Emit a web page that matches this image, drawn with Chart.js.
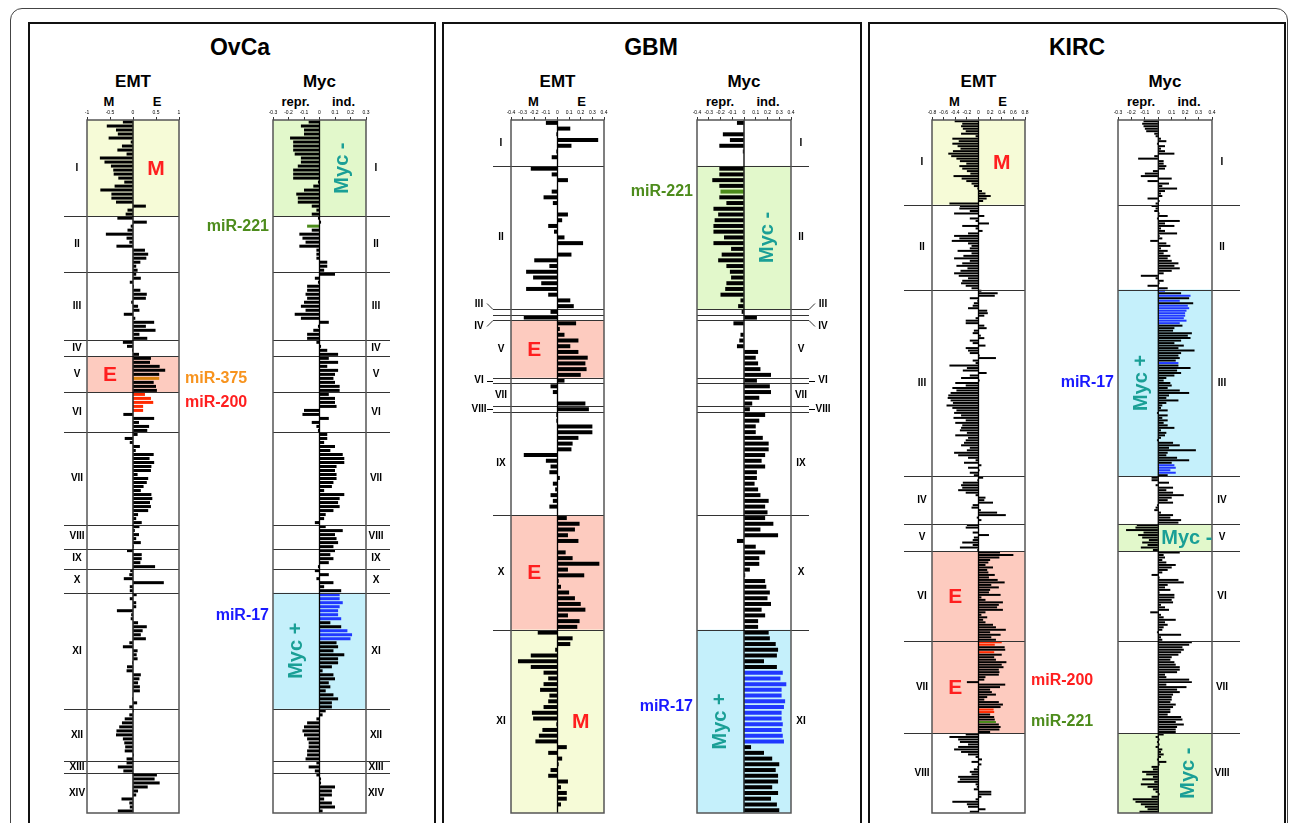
<!DOCTYPE html>
<html>
<head>
<meta charset="utf-8">
<title>EMT / Myc miRNA profiles</title>
<script src="https://cdn.jsdelivr.net/npm/chart.js@4.4.1/dist/chart.umd.min.js"></script>
<style>
  html, body { margin: 0; padding: 0; background: #fff; }
  body { width: 1290px; height: 823px; overflow: hidden; position: relative; }
  #page { position: absolute; left: 0; top: 0; width: 1290px; height: 823px; font-family: 'Liberation Sans', Arial, Helvetica, sans-serif; }
  .frame { position: absolute; left: 10px; top: 8px; width: 1278px; height: 900px; border: 1.5px solid #444; border-radius: 12px; box-sizing: border-box; }
  .panel { position: absolute; top: 22px; height: 900px; border: 2px solid #111; box-sizing: border-box; }
  .txt { position: absolute; transform: translateX(-50%); white-space: nowrap; font-weight: bold; color: #000; line-height: 1; }
  .title { font-size: 23px; top: 36px; }
  .head { font-size: 17px; top: 73px; }
  .sub { font-size: 13px; top: 95px; }
  canvas { position: absolute; }
</style>
</head>
<body>
<div id="page">
  <div class="frame"></div>
  <div class="panel" style="left:28px;width:408px"></div>
  <div class="panel" style="left:442px;width:420px"></div>
  <div class="panel" style="left:868px;width:418px"></div>
</div>
<script>
// ---- segment names ----
const ovcaSegNames = ['I','II','III','IV','V','VI','VII','VIII','IX','X','XI','XII','XIII','XIV'];
const gbmSegNames = ['I','II','III','IV','V','VI','VII','VIII','IX','X','XI'];
const kircSegNames = ['I','II','III','IV','V','VI','VII','VIII'];

// ---- OvCa (one array per segment, rows top to bottom) ----
const ovcaEMT = [
  [-0.22,-0.57,-0.37,-0.33,-0.53,-0.05,-0.24,-0.34,-0.14,-0.72,-0.62,-0.48,-0.43,-0.42,-0.32,-0.19,-0.40,-0.71,-0.47,-0.47,-0.37,0.28,-0.12,-0.16],
  [-0.34,0.30,-0.05,-0.12,-0.59,-0.14,-0.08,-0.36,0.26,0.33,0.29,0.16,0.07,0.10],
  [0.07,0.17,-0.07,0.02,0.16,0.30,0.28,-0.04,0.11,0.14,-0.20,0.05,0.46,0.28,0.49,0.14,0.31],
  [-0.22,-0.13,-0.02,0.13],
  [0.39,0.37,0.58,0.70,0.57,0.57,0.45,0.50,0.52],
  [0.26,0.39,0.44,0.22,0.22,-0.21,0.46,0.13,0.35,0.31],
  [0.10,-0.18,-0.07,0.15,0.06,0.45,0.36,0.46,0.40,0.39,0.10,0.33,0.30,0.23,0.17,0.40,0.42,0.37,0.39,0.33,0.11,0.07,0.19],
  [0.14,0.04,0.13,0.07,0.17,0.02],
  [-0.13,0.19,0.19,0.16,0.48],
  [-0.06,-0.08,-0.20,0.67,-0.07,-0.07],
  [0.08,-0.07,0.07,0.07,-0.35,-0.04,-0.05,0.11,0.30,0.21,0.17,0.28,-0.08,-0.22,0.10,0.08,0.10,-0.02,-0.13,-0.14,0.17,0.14,0.11,0.15,0.15,-0.01,-0.02,0.09,-0.08],
  [0.02,-0.08,-0.18,-0.24,-0.30,-0.36,-0.37,-0.22,-0.19,-0.17,-0.18,0.02,-0.14],
  [-0.14,-0.33,-0.21],
  [0.52,0.47,0.58,0.32,0.11,0.07,-0.25,-0.08,-0.07,-0.33]
];
const ovcaMyc = [
  [-0.07,-0.12,-0.10,-0.10,-0.19,-0.17,-0.17,-0.17,-0.16,-0.12,-0.12,-0.14,-0.17,-0.17,-0.17,-0.01,-0.04,-0.10,-0.15,-0.14,-0.14,-0.05,-0.02,-0.05],
  [-0.01,0.01,-0.08,-0.05,-0.13,-0.11,-0.09,-0.13,-0.02,-0.02,-0.02,0.05,0.05,0.03],
  [0.10,-0.03,-0.01,-0.08,-0.08,-0.09,-0.08,-0.10,-0.12,-0.09,-0.16,-0.12,0.06,-0.01,-0.04,-0.08,-0.08],
  [-0.02,0.01,0.05,0.12],
  [0.06,0.12,0.05,0.12,0.10,0.09,0.10,0.13,0.13],
  [0.06,0.10,0.10,0.11,-0.10,-0.11,0.06,-0.05,-0.02,-0.01],
  [0.05,0.05,0.03,0.10,0.07,0.15,0.16,0.16,0.11,0.10,0.11,0.11,0.09,0.08,0.03,0.16,0.13,0.12,0.13,0.09,0.04,0.03,-0.03],
  [0.04,0.15,0.10,0.11,0.12,0.09],
  [0.10,0.07,0.09,0.06,-0.01],
  [-0.03,0.06,-0.02,0.09,0.03,0.14],
  [0.13,0.13,0.15,0.13,0.12,0.12,0.14,0.07,0.14,0.18,0.21,0.20,0.11,0.12,0.09,0.16,0.12,0.12,0.08,0.02,0.09,0.10,0.06,0.07,0.04,0.09,0.12,0.08,0.08],
  [0.04,0.02,-0.02,-0.08,-0.10,-0.11,-0.10,-0.08,-0.07,-0.07,-0.08,-0.08,-0.09],
  [-0.02,-0.07,-0.03],
  [-0.02,0.01,0.01,0.10,0.08,0.08,0.03,0.08,0.10,0.02]
];
// highlighted miRNA families: [family, segment, rows]
const ovcaEMTmiR = [['miR-375',4,[5]],['miR-200',5,[0,1,2,3,4]]];
const ovcaMycmiR = [['miR-221',1,[2]],['miR-17',10,[0,1,2,3,4,5,6,9,10,11]]];

// ---- GBM ----
const gbmEMT = [
  [-0.10,0.11,-0.01,0.35,0.12,-0.01,-0.05,0],
  [-0.23,-0.05,0.09,0,-0.05,-0.12,-0.04,0,0.09,0.04,-0.08,-0.03,0.06,0.22,0,0.12,-0.20,-0.07,-0.27,-0.21,-0.14,-0.27,-0.08,0.11,0.14],
  [-0.06],
  [-0.29],
  [0.16,0.02,0.06,0.18,0.11,0.18,0.26,0.24,0.25,0.20],
  [0.06],
  [-0.06,-0.04,0,0.24],
  [0.27],
  [-0.01,-0.01,0.30,0.30,0.18,0.13,0.12,-0.29,-0.10,-0.06,-0.07,0.02,-0.04,-0.02,-0.06,-0.04,-0.07,0],
  [0.08,0.19,0.15,0.09,0.18,0,0.07,0.13,0.36,0.09,0.23,0.01,0.03,0.10,0.15,0.20,0.24,0.09,0.19,0.17],
  [-0.17,0.13,0.11,-0.02,-0.23,-0.34,-0.23,-0.12,-0.08,-0.12,-0.15,-0.07,-0.08,-0.12,-0.22,-0.21,-0.01,-0.13,-0.16,-0.19,0.08,-0.08,0.04,0.01,-0.06,-0.08,0.09,0.03,0.08,0.08,0.03,0]
];
const gbmMyc = [
  [-0.06,0,-0.18,-0.12,-0.21,-0.01,0,0],
  [-0.21,-0.21,-0.27,-0.21,-0.20,-0.21,-0.15,-0.26,-0.22,-0.25,-0.26,-0.26,-0.17,-0.26,-0.11,-0.19,-0.22,-0.15,-0.12,-0.11,-0.15,-0.16,-0.20,-0.03,-0.05],
  [-0.02],
  [0.11],
  [-0.09,0,-0.03,-0.04,-0.06,0.12,0.10,0.12,0.14,0.23],
  [0.11],
  [0.22,0.23,0.13,0.07],
  [0.05],
  [0.18,0.13,0.10,0.10,0.16,0.21,0.21,0.18,0.15,0.18,0.11,0.11,0.09,0.12,0.14,0.21,0.18,0.20],
  [0.18,0.25,0.14,0.29,-0.06,0.10,0.18,0.13,0.13,0.05,0.01,0.18,0.19,0.22,0.20,0.23,0.15,0.18,0.12,0.12],
  [0.21,0.22,0.27,0.29,0.28,0.17,0.28,0.33,0.31,0.36,0.32,0.32,0.35,0.34,0.32,0.32,0.33,0.32,0.33,0.34,0.06,0.17,0.24,0.30,0.27,0.29,0.29,0.24,0.29,0.23,0.28,0.30]
];
const gbmEMTmiR = [];
const gbmMycmiR = [['miR-221',1,[4]],['miR-17',10,[7,8,9,10,11,12,13,14,15,16,17,18,19]]];

// ---- KIRC ----
const kircEMT = [
  [-0.41,-0.28,-0.30,-0.27,-0.22,-0.30,-0.05,-0.45,-0.34,-0.45,-0.36,-0.31,-0.44,-0.52,-0.47,-0.38,-0.32,-0.21,-0.33,-0.28,-0.20,-0.14,-0.43,-0.29,-0.21,-0.12,-0.08,-0.02,0.06,0.12,0.21,0.14,0.08,-0.50],
  [-0.32,-0.33,-0.15,-0.42,0.10,-0.15,-0.05,0.18,-0.28,-0.05,0.07,-0.18,-0.42,-0.33,-0.46,-0.18,-0.12,-0.15,-0.36,-0.12,-0.26,-0.42,-0.15,-0.28,-0.38,-0.19,-0.31,-0.42,-0.34,-0.18,-0.28,-0.30,-0.22,-0.12],
  [0.05,0.33,0.28,-0.15,-0.02,-0.08,-0.10,-0.18,0.15,0.16,
   0.10,-0.05,-0.22,-0.22,0.10,0.14,-0.08,-0.10,0.04,0.10,
   -0.15,-0.10,0.12,-0.22,-0.18,-0.15,0.02,0.30,-0.10,-0.05,
   -0.50,-0.20,-0.27,0.14,-0.15,-0.30,0.02,-0.40,-0.22,-0.45,
   -0.38,-0.48,-0.52,-0.53,-0.48,-0.44,-0.55,-0.45,-0.38,-0.42,
   -0.30,-0.43,-0.22,-0.40,-0.28,-0.30,-0.32,-0.20,-0.40,-0.18,
   -0.22,-0.25,-0.30,-0.15,-0.20,-0.42,-0.35,-0.18,-0.05,-0.25,
   0.05,-0.18,0.02,-0.15,-0.08],
  [0.08,-0.02,-0.27,-0.30,-0.28,-0.35,-0.22,-0.05,0.12,0.10,0.25,-0.10,-0.12,0.04,0.32,0.47,-0.03,0.05,-0.01],
  [-0.20,-0.22,0.01,-0.10,0.18,-0.08,-0.10,-0.28,-0.10,-0.32,-0.02],
  [0.37,0.60,0.36,0.20,0.17,0.12,0.25,0.15,0.17,0.28,0.18,0.33,0.45,0.22,0.35,0.20,0.18,0.38,0.05,0.12,0.42,0.35,0.32,0.42,0.12,0.05,0.15,0.08,0.12,0.25,0.30,0.47,0.20,0.38,0.22,0.30],
  [0.40,0.28,0.45,0.46,0.27,0.40,0.27,0.30,0.48,0.40,0.43,0.35,0.36,0.35,0.12,0.10,-0.20,0.46,0.37,0.20,0.23,0.30,0.15,0.10,0.35,0.42,0.38,0.26,0.27,0.20,0.27,0.28,0.30,0.35,0.38,0.36,0.20],
  [-0.22,-0.50,-0.35,-0.32,-0.18,-0.35,-0.42,-0.30,-0.18,-0.05,0.06,-0.12,0.05,-0.02,-0.08,-0.15,-0.12,-0.35,-0.32,-0.36,-0.05,-0.03,-0.08,0.22,0.22,0.05,-0.05,-0.45,-0.20,-0.18,0.12,-0.15]
];
const kircMyc = [
  [-0.11,-0.12,-0.11,-0.10,-0.09,-0.03,-0.02,0.02,0.06,-0.01,0.05,0.02,0.05,0.12,-0.03,-0.15,0.04,0.04,0.06,0.05,-0.04,-0.10,-0.13,0.10,-0.08,0.08,0.03,0.14,0.05,0.02,0.03,-0.08,0.01,-0.02],
  [-0.05,-0.02,-0.03,0.01,0.07,-0.01,0.16,0.05,0.12,0.02,0.05,0.14,0.01,0.03,-0.06,0.06,0.09,0.02,0.07,0.04,0.09,0.07,0.10,0.15,0.12,0.16,0.10,0.04,-0.13,-0.02,0.04,0.01,-0.08,0.07],
  [0.05,0.17,0.24,0.23,0.16,0.26,0.22,0.23,0.21,0.20,
   0.20,0.19,0.21,0.16,0.18,0.12,0.11,0.25,0.22,0.24,
   0.17,0.12,0.19,0.15,0.27,0.17,0.15,0.16,0.13,0.15,
   0.15,0.24,0.14,0.17,0.12,0.06,0.04,0.09,0.10,0.07,
   0.16,0.23,0.08,0.06,0.15,0.06,0.03,0.02,0.07,-0.01,
   0.07,0.03,0.07,0.04,0.07,0.12,0.02,0.06,0.05,0.02,
   -0.01,0.11,0.16,0.08,0.28,0.07,0.06,0.14,0.23,0.10,
   0.12,0.13,0.09,0.13,0.07],
  [-0.05,-0.05,0.08,-0.02,0.11,0.06,0.11,0.19,0.10,0.07,0.11,-0.01,-0.02,-0.03,0.02,0.11,0.09,0.17,0.15],
  [-0.16,-0.17,-0.24,-0.11,-0.15,-0.12,-0.07,-0.12,-0.08,-0.13,-0.04],
  [0.16,0.04,0.05,0.03,0.06,0.13,0.10,0.07,0.03,-0.05,0.01,0.15,0.19,0.07,0.05,0.09,0.01,0.12,0.12,0.10,0.11,0.02,0.05,0.08,-0.06,0.02,0.04,0.13,0.05,0.07,0.04,0.03,-0.01,0.17,0.02,0.03],
  [0.25,0.23,0.18,0.19,0.17,0.15,0.10,0.09,0.12,0.13,0.16,0.16,0.14,0.05,0.06,0.23,0.25,0.06,0.21,0.14,0.16,0.11,0.10,0.10,0.09,0.13,0.11,0.09,0.09,0.07,0.17,0.18,0.13,0.19,0.14,0.13,0.13],
  [0.04,-0.02,0.01,-0.01,0.01,-0.02,0.03,0.02,0.04,0.02,-0.01,0.06,0.01,-0.05,-0.04,-0.12,-0.09,-0.04,-0.12,-0.03,-0.13,-0.08,-0.04,-0.02,0.01,-0.05,-0.19,-0.17,-0.13,-0.10,-0.08,-0.14]
];
const kircEMTmiR = [['miR-200',6,[0,1,4,27,28]],['miR-221',6,[32]]];
const kircMycmiR = [['miR-17',2,[0,2,4,6,7,8,9,10,11,12,13,29,70,71,72,73]]];

// ---- styles ----
const FONT = "'Liberation Sans', Arial, Helvetica, sans-serif";
const REGION_FILL = { 'M': '#f6fbd7', 'E': '#fdcbbf', 'Myc -': '#e2f8cb', 'Myc +': '#c5f0fb' };
const REGION_TEXT = { 'M': '#ff1f1f', 'E': '#ff1f1f', 'Myc -': '#1a9f96', 'Myc +': '#1a9f96' };
const BAR_COLOR = { 'miR-200': '#ff2a00', 'miR-375': '#d8820f', 'miR-221': '#4d8c1c', 'miR-17': '#2038ff' };
const LABEL_COLOR = { 'miR-200': '#ff1f1f', 'miR-375': '#f7931e', 'miR-221': '#4d8c1c', 'miR-17': '#1a1aff' };

const titles = [['OvCa', 240], ['GBM', 651], ['KIRC', 1077]];

// layout of each column: plot box [l,t,r,b], canvas [left,width]
const columns = [
  { head: 'EMT', sub: ['M', 'E'], data: ovcaEMT, names: ovcaSegNames, mir: ovcaEMTmiR,
    min: -1, max: 1, step: 0.5, plot: [87, 120, 179, 813], canvas: [40, 230], side: 'left', lineExt: 23, bar: 0.75,
    regions: [[0, 'M', 'right'], [4, 'E', 'left']] },
  { head: 'Myc', sub: ['repr.', 'ind.'], data: ovcaMyc, names: ovcaSegNames, mir: ovcaMycmiR,
    min: -0.3, max: 0.3, step: 0.1, plot: [273, 120, 366, 813], canvas: [190, 215], side: 'right', lineExt: 24, bar: 0.75,
    regions: [[0, 'Myc -', 'right'], [10, 'Myc +', 'left']] },
  { head: 'EMT', sub: ['M', 'E'], data: gbmEMT, names: gbmSegNames, mir: gbmEMTmiR,
    min: -0.4, max: 0.4, step: 0.1, plot: [511, 120, 604, 813], canvas: [455, 175], side: 'left', lineExt: 18, bar: 0.7,
    nudge: [0, 0, -8, 9, 0, 0, 0, 0, 0, 0, 0], breaks: [2, 4],
    regions: [[4, 'E', 'left'], [9, 'E', 'left'], [10, 'M', 'right']] },
  { head: 'Myc', sub: ['repr.', 'ind.'], data: gbmMyc, names: gbmSegNames, mir: gbmMycmiR,
    min: -0.4, max: 0.4, step: 0.1, plot: [697, 120, 791, 813], canvas: [610, 240], side: 'right', lineExt: 18, bar: 0.7,
    nudge: [0, 0, -8, 9, 0, 0, 0, 0, 0, 0, 0], breaks: [2, 4],
    regions: [[1, 'Myc -', 'right'], [10, 'Myc +', 'left']] },
  { head: 'EMT', sub: ['M', 'E'], data: kircEMT, names: kircSegNames, mir: kircEMTmiR, mirAt: { 'miR-200': [6, 15.5] },
    min: -0.8, max: 0.8, step: 0.2, plot: [932, 120, 1025, 813], canvas: [890, 225], side: 'left', lineExt: 28, bar: 0.8,
    regions: [[0, 'M', 'right'], [5, 'E', 'left'], [6, 'E', 'left']] },
  { head: 'Myc', sub: ['repr.', 'ind.'], data: kircMyc, names: kircSegNames, mir: kircMycmiR, mirAt: { 'miR-17': [2, 37] },
    min: -0.3, max: 0.4, step: 0.1, plot: [1118, 120, 1212, 813], canvas: [1030, 225], side: 'right', lineExt: 28, bar: 0.8,
    regions: [[2, 'Myc +', 'left'], [4, 'Myc -', 'flat'], [7, 'Myc -', 'right']] }
];

const page = document.getElementById('page');
const CANVAS_TOP = 100, CANVAS_H = 723, AXIS_H = 12;

function addText(text, cls, x, color) {
  const d = document.createElement('div');
  d.className = 'txt ' + cls;
  d.style.left = x + 'px';
  if (color) d.style.color = color;
  d.textContent = text;
  page.appendChild(d);
}

titles.forEach(([t, x]) => addText(t, 'title', x));

function decor(c, bounds) {
  const segs = c.data;
  const left = c.side === 'left';
  return {
    id: 'decor',
    beforeDatasetsDraw(chart) {
      const { ctx, chartArea: a, scales: { y } } = chart;
      const yAt = k => y.getPixelForValue(k - 0.5);
      ctx.save();
      c.regions.forEach(([s, type]) => {
        const y0 = yAt(bounds[s]), y1 = yAt(bounds[s + 1]);
        ctx.fillStyle = REGION_FILL[type];
        ctx.fillRect(a.left, y0, a.right - a.left, y1 - y0);
      });
      ctx.restore();
    },
    afterDatasetsDraw(chart) {
      const { ctx, chartArea: a, scales: { x, y } } = chart;
      const yAt = k => y.getPixelForValue(k - 0.5);
      ctx.save();
      // segment separators
      ctx.strokeStyle = '#333';
      ctx.lineWidth = 1;
      for (let s = 1; s < segs.length; s++) {
        const yy = Math.round(yAt(bounds[s])) + 0.5;
        ctx.beginPath();
        ctx.moveTo(left ? a.left - c.lineExt : a.left, yy);
        ctx.lineTo(left ? a.right : a.right + c.lineExt, yy);
        ctx.stroke();
      }
      // break marks around the very short segments
      (c.breaks || []).forEach((k, i) => {
        const yy = Math.round(yAt(bounds[k])) + 0.5;
        const ex = left ? a.left - c.lineExt : a.right + c.lineExt;
        const dx = left ? -6 : 6, dy = i === 0 ? -6 : 6;
        ctx.beginPath();
        ctx.moveTo(ex, yy);
        ctx.lineTo(ex + dx, yy + dy);
        ctx.stroke();
      });
      // zero line
      const x0 = x.getPixelForValue(0);
      ctx.strokeStyle = '#000';
      ctx.lineWidth = 1.3;
      ctx.beginPath();
      ctx.moveTo(x0, a.top);
      ctx.lineTo(x0, a.bottom);
      ctx.stroke();
      // plot frame
      ctx.strokeStyle = '#555';
      ctx.lineWidth = 1.5;
      ctx.strokeRect(a.left, a.top, a.right - a.left, a.bottom - a.top);
      // roman numerals
      ctx.fillStyle = '#000';
      ctx.font = 'bold 10px ' + FONT;
      ctx.textAlign = 'center';
      ctx.textBaseline = 'middle';
      c.names.forEach((nm, s) => {
        const nudge = c.nudge ? c.nudge[s] : 0;
        const thin = segs[s].length === 1;
        const yy = (yAt(bounds[s]) + yAt(bounds[s + 1])) / 2 + nudge;
        const off = thin ? 32 : 10;
        ctx.fillText(nm, left ? a.left - off : a.right + off, yy);
        if (thin && !nudge) {
          ctx.lineWidth = 1;
          ctx.strokeStyle = '#000';
          ctx.beginPath();
          ctx.moveTo(left ? a.left - 24 : a.right + 24, Math.round(yy) + 0.5);
          ctx.lineTo(left ? a.left - c.lineExt : a.right + c.lineExt, Math.round(yy) + 0.5);
          ctx.stroke();
        }
      });
      // region labels
      const w = a.right - a.left;
      c.regions.forEach(([s, type, pos]) => {
        const yy = (yAt(bounds[s]) + yAt(bounds[s + 1])) / 2;
        const myc = type.startsWith('Myc');
        ctx.fillStyle = REGION_TEXT[type];
        ctx.font = 'bold ' + (myc ? 20 : 21) + 'px ' + FONT;
        if (pos === 'flat') {
          ctx.textAlign = 'left';
          ctx.fillText(type, x0 + 3, yy + 1);
          return;
        }
        const xx = a.left + w * (pos === 'left' ? 0.25 : 0.75);
        ctx.textAlign = 'center';
        if (myc) {
          ctx.save();
          ctx.translate(xx, yy);
          ctx.rotate(-Math.PI / 2);
          ctx.fillText(type, 0, 0);
          ctx.restore();
        } else {
          ctx.fillText(type, xx, yy + 1);
        }
      });
      // miRNA labels
      ctx.font = 'bold 16px ' + FONT;
      c.mir.forEach(([fam, s, rows]) => {
        const at = (c.mirAt && c.mirAt[fam]) || [s, rows.reduce((p, r) => p + r, 0) / rows.length];
        const yy = y.getPixelForValue(bounds[at[0]] + at[1]);
        ctx.fillStyle = LABEL_COLOR[fam];
        ctx.textAlign = left ? 'left' : 'right';
        ctx.fillText(fam, left ? a.right + 6 : a.left - 4, yy);
      });
      ctx.restore();
    }
  };
}

columns.forEach(c => {
  const bounds = [0];
  c.data.forEach(s => bounds.push(bounds[bounds.length - 1] + s.length));
  const values = c.data.flat();
  const colors = values.map(() => '#000');
  c.mir.forEach(([fam, s, rows]) => rows.forEach(r => { colors[bounds[s] + r] = BAR_COLOR[fam]; }));

  const [pl, pt, pr, pb] = c.plot;
  const [cl, cw] = c.canvas;
  const mid = (pl + pr) / 2;
  addText(c.head, 'head', mid);
  addText(c.sub[0], 'sub', mid - 24);
  addText(c.sub[1], 'sub', mid + 24);

  const cv = document.createElement('canvas');
  cv.width = cw;
  cv.height = CANVAS_H;
  cv.style.left = cl + 'px';
  cv.style.top = CANVAS_TOP + 'px';
  cv.style.width = cw + 'px';
  cv.style.height = CANVAS_H + 'px';
  page.appendChild(cv);

  new Chart(cv.getContext('2d'), {
    type: 'bar',
    data: {
      labels: values.map((_, i) => i),
      datasets: [{
        data: values,
        backgroundColor: colors,
        borderWidth: 0,
        barPercentage: c.bar,
        categoryPercentage: 1
      }]
    },
    options: {
      indexAxis: 'y',
      responsive: false,
      animation: false,
      devicePixelRatio: 1,
      layout: {
        padding: {
          left: pl - cl,
          right: cl + cw - pr,
          top: pt - CANVAS_TOP - AXIS_H,
          bottom: CANVAS_TOP + CANVAS_H - pb
        }
      },
      plugins: { legend: { display: false }, tooltip: { enabled: false } },
      scales: {
        x: {
          type: 'linear',
          position: 'top',
          min: c.min,
          max: c.max,
          afterFit: s => { s.height = AXIS_H; },
          ticks: {
            stepSize: c.step, autoSkip: false, maxRotation: 0, padding: 1, color: '#000',
            font: { size: 5, family: FONT },
            callback: v => String(Math.round(v * 10) / 10)
          },
          grid: { drawOnChartArea: false, drawTicks: true, tickLength: 3, color: '#000', lineWidth: 0.8 },
          border: { display: false }
        },
        y: { type: 'category', display: false, offset: true, grid: { display: false } }
      }
    },
    plugins: [decor(c, bounds)]
  });
});
</script>
</body>
</html>
